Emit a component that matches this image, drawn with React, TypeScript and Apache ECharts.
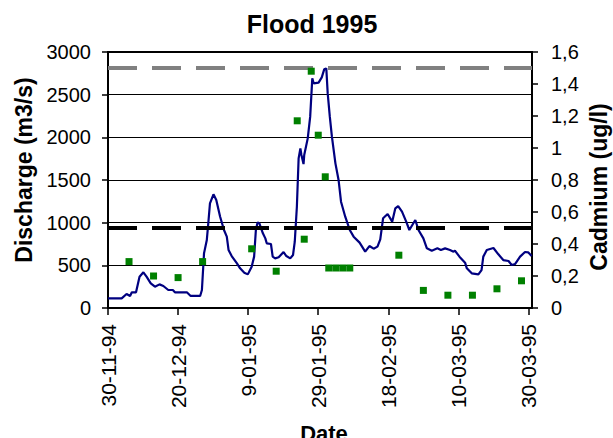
import React, { useEffect, useRef } from "react";
import * as echarts from "echarts";

// Days since 30-11-1994
const dischargeDays = [0, 3.9, 5.3, 6.3, 6.8, 8, 9, 10.1, 11, 12.2, 13.4, 14.7, 15.8, 17.2, 18.5, 19.1, 22.5, 23.6, 26.3, 26.8, 27.4, 28.2, 28.7, 29.1, 30.1, 30.9, 32, 33.1, 33.9, 34.4, 35.3, 36.8, 37.7, 38.9, 39.9, 41, 41.7, 42.2, 42.7, 43.2, 44.2, 44.9, 45.3, 46.5, 47, 47.7, 48.7, 50.1, 50.9, 52, 52.8, 53.3, 53.9, 54.4, 54.9, 55.2, 55.8, 56, 57, 57.7, 58.3, 58.7, 60.1, 61, 61.7, 62.3, 62.7, 63.3, 63.9, 64.9, 65.8, 66.5, 67.7, 69, 70.1, 71.8, 73.4, 74.6, 75.8, 76.9, 77.7, 78.5, 79.8, 81.1, 82, 82.8, 83.9, 85.1, 86, 87.7, 88.6, 90, 91, 92.4, 94, 95, 96.2, 97.6, 98.6, 99, 100.3, 101.9, 102.4, 103.8, 105.7, 106.6, 107.1, 108.1, 110, 111.4, 112.8, 114.3, 115.2, 116.2, 117.6, 119, 119.9, 120.9];
const dischargeValues = [113, 113, 164, 141, 184, 184, 367, 418, 367, 289, 250, 277, 258, 211, 211, 184, 184, 141, 141, 211, 640, 797, 1031, 1226, 1332, 1266, 1070, 914, 836, 680, 609, 523, 465, 414, 394, 484, 602, 914, 1004, 992, 875, 816, 758, 750, 602, 582, 594, 656, 609, 582, 621, 777, 1187, 1754, 1871, 1793, 1687, 1793, 1988, 2242, 2691, 2633, 2641, 2703, 2797, 2808, 2515, 2242, 2008, 1695, 1500, 1246, 1070, 914, 836, 766, 660, 726, 695, 719, 805, 1051, 1101, 1012, 1168, 1195, 1129, 1012, 914, 1031, 914, 816, 699, 672, 699, 680, 699, 680, 660, 672, 602, 531, 465, 406, 394, 445, 602, 680, 703, 629, 562, 551, 504, 516, 602, 656, 652, 609];

const cadmiumDays = [6, 13, 20, 27, 41, 48, 54, 56, 58, 60, 62, 63, 65, 67, 69, 83, 90, 97, 104, 111, 118];
const cadmiumValues = [0.29, 0.2, 0.19, 0.29, 0.37, 0.23, 1.17, 0.43, 1.48, 1.08, 0.82, 0.25, 0.25, 0.25, 0.25, 0.33, 0.11, 0.08, 0.08, 0.12, 0.17];

const xTickDays = [0, 20, 40, 60, 80, 100, 120];
const cadmiumLimits = [1.5, 0.5];

const START = Date.UTC(1994, 10, 30);
const FONT = "'Liberation Sans', Arial, sans-serif";

const pad = (n: number) => (n < 10 ? "0" + n : String(n));
const dayToLabel = (v: number) => {
  const d = new Date(START + Math.round(v) * 86400000);
  return `${d.getUTCDate()}-${pad(d.getUTCMonth() + 1)}-${pad(d.getUTCFullYear() % 100)}`;
};

export default function App() {
  const ref = useRef<HTMLDivElement>(null);
  useEffect(() => {
    if (!ref.current) return;
    const chart = echarts.init(ref.current, undefined, { renderer: "svg" });
    chart.setOption({
      animation: false,
      backgroundColor: "#fff",
      textStyle: { fontFamily: FONT },
      grid: { left: 108, right: 81, top: 52, bottom: 130, show: true, borderColor: "#000", borderWidth: 2, backgroundColor: "transparent" },
      graphic: [
        { type: "text", x: 312, y: 24, style: { text: "Flood 1995", font: `bold 25px ${FONT}`, fill: "#000", textAlign: "center", textVerticalAlign: "middle" } },
        { type: "text", x: 324, y: 433, style: { text: "Date", font: `bold 22px ${FONT}`, fill: "#000", textAlign: "center", textVerticalAlign: "middle" } },
        { type: "text", x: 24, y: 170, rotation: Math.PI / 2, style: { text: "Discharge (m3/s)", font: `bold 23px ${FONT}`, fill: "#000", textAlign: "center", textVerticalAlign: "middle" } },
        { type: "text", x: 599, y: 187, rotation: Math.PI / 2, style: { text: "Cadmium (ug/l)", font: `bold 23px ${FONT}`, fill: "#000", textAlign: "center", textVerticalAlign: "middle" } },
      ],
      xAxis: {
        type: "value",
        min: 0,
        max: 121,
        axisLine: { show: true, lineStyle: { color: "#000", width: 2 } },
        axisTick: { show: true, length: 7, lineStyle: { color: "#000", width: 1.5 }, customValues: xTickDays },
        axisLabel: { rotate: 90, margin: 16, fontSize: 21, color: "#000", fontFamily: FONT, customValues: xTickDays, formatter: (v: number) => dayToLabel(v) },
        splitLine: { show: false },
      },
      yAxis: [
        {
          type: "value",
          min: 0,
          max: 3000,
          interval: 500,
          position: "left",
          axisLine: { show: true, lineStyle: { color: "#000", width: 2 } },
          axisTick: { show: true, length: 6, lineStyle: { color: "#000", width: 1.5 } },
          axisLabel: { margin: 17, fontSize: 20, color: "#000", fontFamily: FONT, formatter: (v: number) => String(v) },
          splitLine: { show: true, lineStyle: { color: "#000", width: 1 } },
        },
        {
          type: "value",
          min: 0,
          max: 1.6,
          interval: 0.2,
          position: "right",
          axisLine: { show: true, lineStyle: { color: "#000", width: 2 } },
          axisTick: { show: true, length: 6, lineStyle: { color: "#000", width: 1.5 } },
          axisLabel: { margin: 19, fontSize: 20, color: "#000", fontFamily: FONT, formatter: (v: number) => String(Math.round(v * 10) / 10).replace(".", ",") },
          splitLine: { show: false },
        },
      ],
      series: [
        {
          name: "Discharge",
          type: "line",
          yAxisIndex: 0,
          data: dischargeDays.map((d, i) => [d, dischargeValues[i]]),
          showSymbol: false,
          symbol: "none",
          lineStyle: { color: "#000080", width: 2.2 },
          z: 3,
        },
        {
          name: "Cadmium",
          type: "scatter",
          yAxisIndex: 1,
          data: cadmiumDays.map((d, i) => [d, cadmiumValues[i]]),
          symbol: "rect",
          symbolSize: 7,
          itemStyle: { color: "#008000", opacity: 1 },
          z: 5,
          markLine: {
            silent: true,
            symbol: "none",
            label: { show: false },
            data: [
              { yAxis: cadmiumLimits[0], lineStyle: { color: "#808080", width: 4, type: [29, 15] } },
              { yAxis: cadmiumLimits[1], lineStyle: { color: "#000", width: 4, type: [29, 15] } },
            ],
          },
        },
      ],
    });
    return () => chart.dispose();
  }, []);
  return <div ref={ref} style={{ position: "fixed", left: 0, top: 0, width: 613, height: 438 }} />;
}
